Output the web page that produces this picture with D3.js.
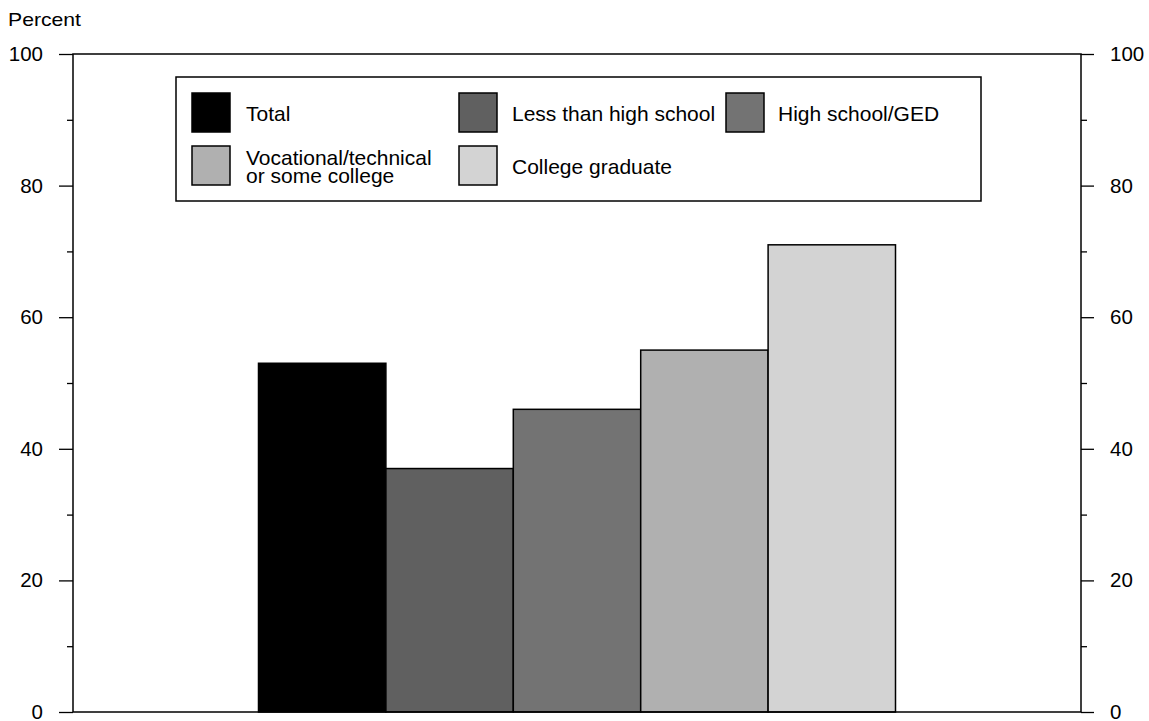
<!DOCTYPE html>
<html>
<head>
<meta charset="utf-8">
<script src="https://cdn.jsdelivr.net/npm/d3@7"></script>
<style>
  html, body { margin: 0; padding: 0; background: #fff; }
  svg text { font-family: "Liberation Sans", Arial, sans-serif; fill: #000; }
</style>
</head>
<body>
<svg id="chart" width="1149" height="721"></svg>
<script>
// Data
const categories = ["Total", "Less than high school", "High school/GED", "Vocational/technical or some college", "College graduate"];
const values = [53, 37, 46, 55, 71];
const colors = ["#000000", "#606060", "#737373", "#b0b0b0", "#d3d3d3"];
const legendLabels = [["Total"], ["Less than high school"], ["High school/GED"], ["Vocational/technical", "or some college"], ["College graduate"]];
const majorTicks = [0, 20, 40, 60, 80, 100];
const minorTicks = [10, 30, 50, 70, 90];
const yLabel = "Percent";

const svg = d3.select("#chart");
const margin = { left: 73, right: 1081, top: 54, bottom: 712 };
const fs = 20.5;

const y = d3.scaleLinear().domain([0, 100]).range([margin.bottom, margin.top]);
const x = d3.scaleBand().domain(categories)
  .range([margin.left, margin.right])
  .paddingInner(0).paddingOuter(1.456);

// Bars
svg.append("g").selectAll("rect").data(categories).join("rect")
  .attr("x", d => x(d))
  .attr("y", (d, i) => y(values[i]))
  .attr("width", x.bandwidth())
  .attr("height", (d, i) => y(0) - y(values[i]))
  .attr("fill", (d, i) => colors[i])
  .attr("stroke", "#000")
  .attr("stroke-width", 1.5);

// Frame
svg.append("rect")
  .attr("x", margin.left).attr("y", margin.top)
  .attr("width", margin.right - margin.left)
  .attr("height", margin.bottom - margin.top)
  .attr("fill", "none").attr("stroke", "#000").attr("stroke-width", 1.5);

// Left axis
const leftMajor = d3.axisLeft(y).tickValues(majorTicks).tickSize(14).tickPadding(16).tickFormat(d3.format("d"));
const gl = svg.append("g").attr("transform", `translate(${margin.left},0)`).call(leftMajor);
const gl2 = svg.append("g").attr("transform", `translate(${margin.left},0)`)
  .call(d3.axisLeft(y).tickValues(minorTicks).tickSize(6).tickFormat(""));

// Right axis
const rightMajor = d3.axisRight(y).tickValues(majorTicks).tickSize(13).tickPadding(16).tickFormat(d3.format("d"));
const gr = svg.append("g").attr("transform", `translate(${margin.right},0)`).call(rightMajor);
const gr2 = svg.append("g").attr("transform", `translate(${margin.right},0)`)
  .call(d3.axisRight(y).tickValues(minorTicks).tickSize(6).tickFormat(""));

[gl, gl2, gr, gr2].forEach(g => {
  g.select(".domain").remove();
  g.selectAll(".tick line").attr("stroke", "#000").attr("stroke-width", 1.3);
  g.selectAll("text").attr("font-size", fs).attr("font-family", "Liberation Sans, Arial, sans-serif").attr("fill", "#000");
});

// Y label
svg.append("text").attr("x", 8).attr("y", 25.5).attr("font-size", 19)
  .attr("textLength", 73).attr("lengthAdjust", "spacingAndGlyphs").text(yLabel);

// Legend
const lg = svg.append("g");
lg.append("rect").attr("x", 176).attr("y", 77).attr("width", 805).attr("height", 124)
  .attr("fill", "#fff").attr("stroke", "#000").attr("stroke-width", 1.5);
const legendPos = [
  { sx: 192, sy: 93, tx: 246 },
  { sx: 459, sy: 93, tx: 512 },
  { sx: 726, sy: 93, tx: 778 },
  { sx: 192, sy: 146, tx: 246 },
  { sx: 459, sy: 146, tx: 512 }
];
categories.forEach((c, i) => {
  const p = legendPos[i];
  lg.append("rect").attr("x", p.sx).attr("y", p.sy).attr("width", 38).attr("height", 39)
    .attr("fill", colors[i]).attr("stroke", "#000").attr("stroke-width", 1.5);
  const lines = legendLabels[i];
  const t = lg.append("text").attr("font-size", 21);
  const cy = p.sy + 19.5;
  const lh = 18;
  lines.forEach((ln, j) => {
    t.append("tspan").attr("x", p.tx)
      .attr("y", cy + 8 + (j - (lines.length - 1) / 2) * lh)
      .text(ln);
  });
});
</script>
</body>
</html>
